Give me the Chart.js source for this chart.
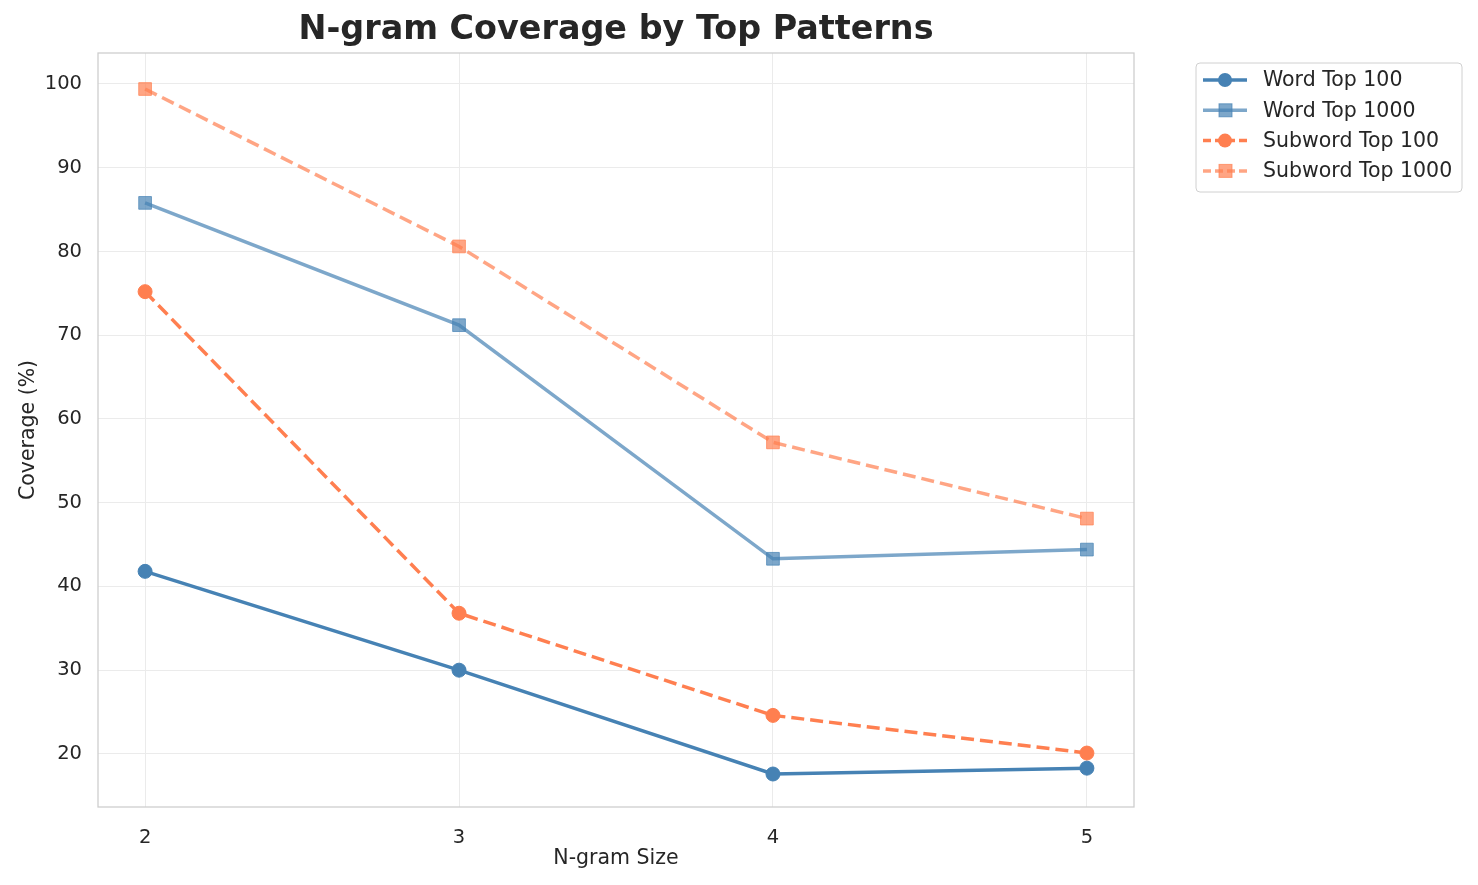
<!DOCTYPE html>
<html>
<head>
<meta charset="utf-8">
<script src="https://cdn.jsdelivr.net/npm/chart.js@4"></script>
<style>
  html, body { margin: 0; padding: 0; background: #fff; }
  #wrap { width: 1478px; height: 885px; }
</style>
</head>
<body>
<div id="wrap"><canvas id="c" width="1478" height="885"></canvas></div>
<script>
// n-gram sizes on the x axis
const ngramSizes = [2, 3, 4, 5];
const yTicks = [20, 30, 40, 50, 60, 70, 80, 90, 100];

// coverage (%)
const wordTop100 = [41.8, 30.0, 17.6, 18.3];
const wordTop1000 = [85.8, 71.2, 43.3, 44.4];
const subwordTop100 = [75.2, 36.8, 24.6, 20.1];
const subwordTop1000 = [99.4, 80.6, 57.2, 48.1];

const seriesNames = ['Word Top 100', 'Word Top 1000', 'Subword Top 100', 'Subword Top 1000'];

const FONT = '"DejaVu Sans", sans-serif';
const blue = 'rgb(70,130,180)';
const blueA = 'rgba(70,130,180,0.7)';
const coral = 'rgb(255,127,80)';
const coralA = 'rgba(255,127,80,0.7)';

function pts(vals) {
  return vals.map((v, i) => ({ x: ngramSizes[i], y: v }));
}

const datasets = [
  { label: seriesNames[0], data: pts(wordTop100), borderColor: blue, backgroundColor: blue,
    pointStyle: 'circle', pointRadius: 7, borderDash: [] },
  { label: seriesNames[1], data: pts(wordTop1000), borderColor: blueA, backgroundColor: blueA,
    pointStyle: 'rect', pointRadius: 9, borderDash: [] },
  { label: seriesNames[2], data: pts(subwordTop100), borderColor: coral, backgroundColor: coral,
    pointStyle: 'circle', pointRadius: 7, borderDash: [13, 6] },
  { label: seriesNames[3], data: pts(subwordTop1000), borderColor: coralA, backgroundColor: coralA,
    pointStyle: 'rect', pointRadius: 9, borderDash: [13, 6] }
].map(d => Object.assign(d, {
  borderWidth: 3.5, pointBorderWidth: 1, pointBorderColor: d.borderColor,
  pointHoverRadius: d.pointRadius, tension: 0, fill: false
}));

// title, frame, axis labels and legend drawn by hand to match the layout
const decor = {
  id: 'decor',
  afterDraw(chart) {
    const ctx = chart.ctx;
    const a = chart.chartArea;
    ctx.save();
    // frame
    ctx.strokeStyle = '#cccccc';
    ctx.lineWidth = 1.25;
    ctx.strokeRect(a.left, a.top, a.right - a.left, a.bottom - a.top);

    // title
    ctx.fillStyle = '#262626';
    ctx.font = 'bold 33.4px ' + FONT;
    ctx.textAlign = 'center';
    ctx.textBaseline = 'middle';
    ctx.fillText('N-gram Coverage by Top Patterns', (a.left + a.right) / 2, 30);

    // axis titles
    ctx.font = '20.5px ' + FONT;
    ctx.fillText('N-gram Size', (a.left + a.right) / 2, 859);
    ctx.translate(29, (a.top + a.bottom) / 2);
    ctx.rotate(-Math.PI / 2);
    ctx.fillText('Coverage (%)', 0, 0);
    ctx.setTransform(1, 0, 0, 1, 0, 0);

    // legend
    const lx = 1196, ly = 63, lw = 266, lh = 129;
    ctx.beginPath();
    ctx.roundRect(lx, ly, lw, lh, 4);
    ctx.fillStyle = 'rgba(255,255,255,0.8)';
    ctx.fill();
    ctx.strokeStyle = '#d0d0d0';
    ctx.lineWidth = 1;
    ctx.stroke();
    chart.data.datasets.forEach((ds, i) => {
      const y = 80 + i * 30.3;
      ctx.strokeStyle = ds.borderColor;
      ctx.lineWidth = 3.5;
      ctx.setLineDash(ds.borderDash.length ? [8, 4] : []);
      ctx.beginPath();
      ctx.moveTo(1203, y);
      ctx.lineTo(1247, y);
      ctx.stroke();
      ctx.setLineDash([]);
      ctx.fillStyle = ds.backgroundColor;
      if (ds.pointStyle === 'circle') {
        ctx.beginPath();
        ctx.arc(1225, y, 7, 0, Math.PI * 2);
        ctx.fill();
      } else {
        ctx.fillRect(1219, y - 6.5, 13, 13);
        ctx.lineWidth = 1;
        ctx.strokeRect(1219, y - 6.5, 13, 13);
      }
      ctx.fillStyle = '#262626';
      ctx.font = '20.5px ' + FONT;
      ctx.textAlign = 'left';
      ctx.fillText(ds.label, 1263, y + 1);
    });
    ctx.restore();
  }
};

new Chart(document.getElementById('c'), {
  type: 'line',
  data: { datasets },
  options: {
    responsive: false,
    devicePixelRatio: 1,
    animation: false,
    layout: { padding: { left: 0, top: 53, right: 344, bottom: 0 } },
    plugins: { legend: { display: false }, title: { display: false }, tooltip: { enabled: false } },
    scales: {
      x: {
        type: 'linear', min: 1.85, max: 5.15,
        afterBuildTicks: s => { s.ticks = ngramSizes.map(v => ({ value: v })); },
        afterFit: s => { s.height = 78; },
        grid: { color: '#ebebeb', lineWidth: 1, drawTicks: false },
        border: { display: false },
        ticks: { font: { family: FONT, size: 19.5 }, color: '#262626', padding: 19 }
      },
      y: {
        min: 13.66, max: 103.7,
        afterBuildTicks: s => { s.ticks = yTicks.map(v => ({ value: v })); },
        afterFit: s => { s.width = 98; },
        grid: { color: '#ebebeb', lineWidth: 1, drawTicks: false },
        border: { display: false },
        ticks: { font: { family: FONT, size: 19.5 }, color: '#262626', padding: 16 }
      }
    }
  },
  plugins: [decor]
});
</script>
</body>
</html>
